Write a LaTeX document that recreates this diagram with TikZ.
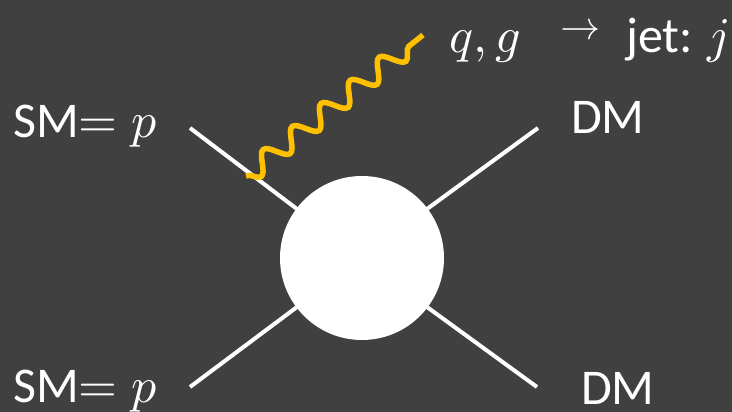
\documentclass[tikz,border=0pt]{standalone}
\usepackage{fontspec}
\usepackage{unicode-math}
\setmainfont{Carlito}
\usetikzlibrary{decorations.pathmorphing}
\definecolor{slidegrey}{RGB}{64, 64, 64}
\definecolor{gluongold}{RGB}{255, 192, 0}

\begin{document}
\begin{tikzpicture}[x=1pt, y=-1pt,
        leg/.style={draw=white, line width=4pt, shorten >=-3pt},
        blob/.style={circle, fill=white, minimum size=164pt, inner sep=0pt},
        lbl/.style={text=white, font=\fontsize{50}{60}\selectfont, inner sep=0pt, anchor=base west}]
        % Slide background
        \fill[slidegrey] (0, 0) rectangle (732, 412);
        \useasboundingbox (0, 0) rectangle (732, 412);

        % Effective vertex
        \node[blob] (vertex) at (362, 258) {};

        % Labels
        \node[lbl] (smtop) at (13, 138) {SM$= p$};
        \node[lbl] (smbot) at (13, 402) {SM$= p$};
        \node[lbl] (dmtop) at (571, 134) {DM};
        \node[lbl] (dmbot) at (581, 404) {DM};
        \node[lbl] (qglbl) at (449, 53) {$q,g$};
        \node[lbl, font=\fontsize{40}{40}\selectfont] (arrowlbl) at (560, 40) {$\rightarrow$};
        \node[lbl] (jetlbl) at (626, 53) {jet: $j$};

        % Free ends of the legs
        \coordinate (inA) at (190, 128);
        \coordinate (inB) at (190, 387);
        \coordinate (outA) at (538, 128);
        \coordinate (outB) at (537, 387);
        \draw[leg] (inA) -- (vertex.143);
        \draw[leg] (inB) -- (vertex.-143);
        \draw[leg] (outA) -- (vertex.37);
        \draw[leg] (outB) -- (vertex.-37);

        % Initial state radiation
        \coordinate (emit) at (246, 176);
        \coordinate (jetend) at (423, 35);
        \draw[gluongold, line width=5.5pt, decorate,
              decoration={snake, mirror, segment length=37pt, amplitude=10pt}] (emit) -- (jetend);
\end{tikzpicture}
\end{document}
